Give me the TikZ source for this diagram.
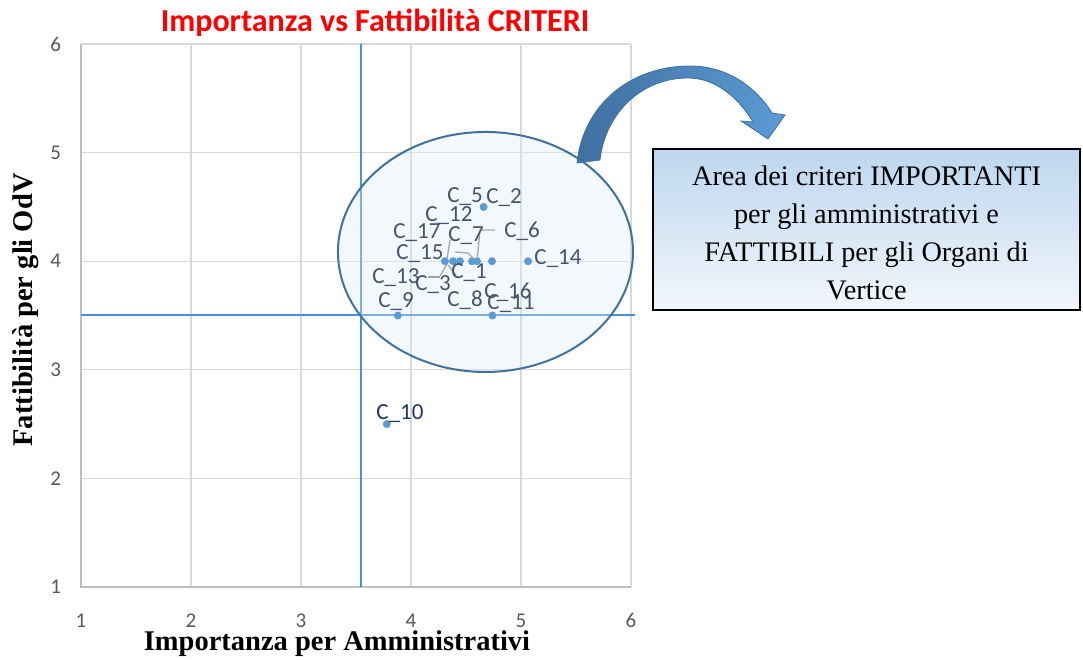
\documentclass[tikz,border=0pt]{standalone}
\usepackage{fontspec}
\setmainfont{Liberation Serif}
\newfontfamily\calib{Carlito}
\usetikzlibrary{shapes.geometric}
\definecolor{gridc}{HTML}{D9D9D9}
\definecolor{axc}{HTML}{BFBFBF}
\definecolor{tickc}{HTML}{595959}
\definecolor{ptc}{HTML}{5B9BD5}
\definecolor{refc}{HTML}{4A90D9}
\definecolor{labc}{HTML}{44546A}
\definecolor{navy}{HTML}{1F3864}
\definecolor{ellc}{HTML}{41719C}
\definecolor{ellf}{HTML}{DEEBF7}
\definecolor{boxa}{HTML}{BDD7EE}
\definecolor{boxb}{HTML}{F2F6FC}
\definecolor{arra}{HTML}{3F6F9F}
\definecolor{arrb}{HTML}{5B9BD5}
\tikzset{
  grid line/.style={draw=gridc, line width=1.2pt},
  tick lab/.style={font=\calib\fontsize{21}{21}\selectfont, text=tickc, inner sep=0pt},
  pt lab/.style={font=\calib\fontsize{23}{23}\selectfont, text=labc, inner sep=0pt},
  datapt/.style={circle, fill=ptc, inner sep=0pt, minimum size=8pt},
  leader/.style={draw=gray!70, line width=1.3pt},
  refline/.style={draw=refc, line width=1.2pt},
}
\begin{document}
\begin{tikzpicture}[x=1pt,y=-1pt]
\useasboundingbox (0,0) rectangle (1083,660);
% chart in data coordinates
\begin{scope}[shift={(-29pt,-695.6pt)},x=110pt,y=108.6pt]
  \foreach \i in {2,...,6} {\draw[grid line] (\i,1) -- (\i,6);}
  \foreach \j in {2,...,6} {\draw[grid line] (1,\j) -- (6,\j);}
  \draw[draw=axc, line width=1.2pt] (1,6) -- (1,1) -- (6,1);
  \foreach \i in {1,...,6} {\node[tick lab] (xt\i) at (\i,0.69) {\i};}
  \foreach \j in {1,...,6} {\node[tick lab] (yt\j) at (0.77,\j) {\j};}
  % reference lines
  \coordinate (vt) at (3.545,6); \coordinate (vb) at (3.545,1);
  \coordinate (hl) at (1,3.505); \coordinate (hr) at (6.04,3.505);
  \draw[refline] (vt) -- (vb);
  \draw[refline] (hl) -- (hr);
  % ellipse
  \node[ellipse, draw=ellc, line width=2pt, fill=ellf, fill opacity=0.35,
        minimum width=295pt, minimum height=240pt, inner sep=0pt] (area) at (4.677,4.085) {};
  % data points
  \node[datapt] (p2) at (4.66,4.5) {};
  \node[datapt] (p15) at (4.309,4) {};
  \node[datapt] (p17) at (4.382,4) {};
  \node[datapt] (p12) at (4.445,4) {};
  \node[datapt] (p7) at (4.555,4) {};
  \node[datapt] (p1) at (4.60,4) {};
  \node[datapt] (p6) at (4.736,4) {};
  \node[datapt] (p14) at (5.064,4) {};
  \node[datapt] (p9) at (3.88,3.5) {};
  \node[datapt] (p11) at (4.74,3.5) {};
  \node[datapt] (p10) at (3.78,2.5) {};
\end{scope}
% leader lines
\coordinate (l6a) at (495,230); \coordinate (l6b) at (480,230);
\coordinate (l7a) at (450,240); \coordinate (l7b) at (447,259);
\coordinate (l15a) at (455,252); \coordinate (l15b) at (468,253); \coordinate (l15c) at (474,259);
\coordinate (l3a) at (440,276); \coordinate (l3b) at (447,264);
\coordinate (l3c) at (428,277); \coordinate (l3d) at (440,277);
\coordinate (l1a) at (448,265); \coordinate (l1b) at (456,275);
\draw[leader] (l6a) -- (l6b) -- (p1);
\draw[leader] (l7a) -- (l7b);
\draw[leader] (l15a) -- (l15b) -- (l15c);
\draw[leader] (l3a) -- (l3b);
\draw[leader] (l3c) -- (l3d);
\draw[leader] (l1a) -- (l1b);
% point labels
\node[pt lab] (c5) at (465,197) {C\_5};
\node[pt lab] (c2) at (504,198) {C\_2};
\node[pt lab] (c12) at (449,216) {C\_12};
\node[pt lab] (c17) at (417,233) {C\_17};
\node[pt lab] (c7) at (466,236) {C\_7};
\node[pt lab] (c6) at (522,231) {C\_6};
\node[pt lab] (c15) at (420,254) {C\_15};
\node[pt lab] (c14) at (558,259) {C\_14};
\node[pt lab] (c13) at (396,278) {C\_13};
\node[pt lab] (c3) at (433,285) {C\_3};
\node[pt lab] (c1) at (469,273) {C\_1};
\node[pt lab] (c16) at (508,292) {C\_16};
\node[pt lab] (c9) at (396,302) {C\_9};
\node[pt lab] (c8) at (465,300) {C\_8};
\node[pt lab] (c11) at (511,304) {C\_11};
\node[pt lab, text=navy] (c10) at (400,414) {C\_10};
% title
\node[font=\calib\bfseries\fontsize{32}{32}\selectfont, text=red, inner sep=0pt] (title) at (375,23) {Importanza vs Fattibilità CRITERI};
% axis titles
\node[font=\bfseries\fontsize{28.5}{28.5}\selectfont, inner sep=0pt] (xtitle) at (337,644) {Importanza per Amministrativi};
\node[font=\bfseries\fontsize{28.5}{28.5}\selectfont, inner sep=0pt, rotate=90] (ytitle) at (26,310) {Fattibilità per gli OdV};
% curved block arrow
\coordinate (a0) at (577,163);
\coordinate (a1) at (690,66);
\coordinate (a2) at (772,113);
\coordinate (h1) at (785,115);
\coordinate (tip) at (768,139);
\coordinate (h2) at (741,121);
\coordinate (a3) at (753,122);
\coordinate (a4) at (688,78);
\coordinate (a5) at (600,160);
\draw[draw=ellc, line width=0.8pt, left color=arra, right color=arrb]
  (a0) .. controls (583,105) and (630,66) .. (a1)
  .. controls (730,66) and (758,90) .. (a2)
  -- (h1) -- (tip) -- (h2) -- (a3)
  .. controls (738,97) and (715,78) .. (a4)
  .. controls (640,78) and (605,115) .. (a5) -- cycle;
% text box
\node[draw=black, line width=1.6pt, shading=axis, top color=boxa, bottom color=boxb, shading angle=0,
      minimum width=427pt, minimum height=161pt, inner sep=0pt] (box) at (866.5,229.5) {};
\node[font=\fontsize{28.3}{38}\selectfont, align=center, inner sep=0pt] (boxtext) at (866.5,233)
  {Area dei criteri IMPORTANTI\\per gli amministrativi e\\FATTIBILI per gli Organi di\\Vertice};
\end{tikzpicture}
\end{document}
